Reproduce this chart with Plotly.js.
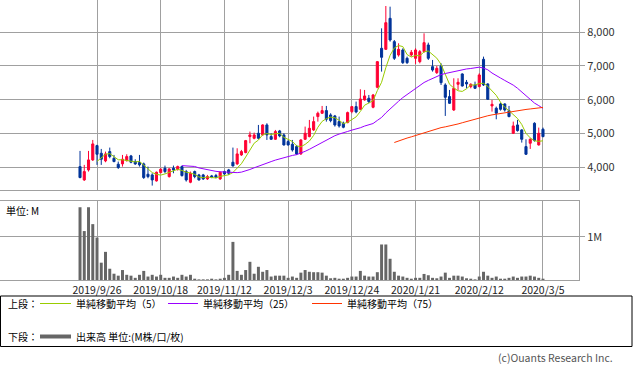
<!DOCTYPE html>
<html>
<head>
<meta charset="utf-8">
<script src="https://cdn.plot.ly/plotly-3.0.1.min.js"></script>
<style>html,body{margin:0;padding:0;background:#fff;}#chart{width:633px;height:371px;}</style>
</head>
<body>
<div id="chart"></div>
<script>
// ---- data ----
var dates = [
 "2019/9/19","2019/9/20","2019/9/24","2019/9/25","2019/9/26","2019/9/27","2019/9/30",
 "2019/10/1","2019/10/2","2019/10/3","2019/10/4","2019/10/7","2019/10/8","2019/10/9","2019/10/10","2019/10/11","2019/10/15","2019/10/16","2019/10/17","2019/10/18","2019/10/21","2019/10/23","2019/10/24","2019/10/25","2019/10/28","2019/10/29","2019/10/30","2019/10/31",
 "2019/11/1","2019/11/5","2019/11/6","2019/11/7","2019/11/8","2019/11/11","2019/11/12","2019/11/13","2019/11/14","2019/11/15","2019/11/18","2019/11/19","2019/11/20","2019/11/21","2019/11/22","2019/11/25","2019/11/26","2019/11/27","2019/11/28","2019/11/29",
 "2019/12/2","2019/12/3","2019/12/4","2019/12/5","2019/12/6","2019/12/9","2019/12/10","2019/12/11","2019/12/12","2019/12/13","2019/12/16","2019/12/17","2019/12/18","2019/12/19","2019/12/20","2019/12/23","2019/12/24","2019/12/25","2019/12/26","2019/12/27","2019/12/30",
 "2020/1/6","2020/1/7","2020/1/8","2020/1/9","2020/1/10","2020/1/14","2020/1/15","2020/1/16","2020/1/17","2020/1/20","2020/1/21","2020/1/22","2020/1/23","2020/1/24","2020/1/27","2020/1/28","2020/1/29","2020/1/30","2020/1/31",
 "2020/2/3","2020/2/4","2020/2/5","2020/2/6","2020/2/7","2020/2/10","2020/2/12","2020/2/13","2020/2/14","2020/2/17","2020/2/18","2020/2/19","2020/2/20","2020/2/21","2020/2/25","2020/2/26","2020/2/27","2020/2/28",
 "2020/3/2","2020/3/3","2020/3/4","2020/3/5"
];
var openP = [
 4013,3617,3914,4211,4636,4409,4181,4458,4260,4083,
 4093,4191,4330,4162,4132,4093,3786,3766,3588,3835,
 3964,3716,3964,3934,4013,3865,3548,3865,3766,3766,
 3647,3736,3746,3647,3865,3914,4142,4093,4359,4429,
 4903,4854,5002,4953,5249,4903,4824,5071,4953,4755,
 4676,4607,4389,4824,4903,5101,5497,5596,5675,5546,
 5516,5348,5299,5319,5645,5793,5714,5991,6041,5774,
 6367,7524,7494,8414,7722,7326,7474,7227,7326,7227,
 7128,7425,7623,6980,6802,7000,6436,6090,5694,6456,
 6762,6515,6387,6436,6387,7198,6466,5813,5744,5872,
 5872,5675,5002,5249,5101,4606,4706,5299,4656,5121
];
var highP = [
 4478,4063,4478,4804,4660,4537,4458,4577,4359,4162,
 4359,4379,4359,4231,4359,4132,4013,3815,3865,3964,
 4043,3964,4043,4043,4043,3914,3865,3894,3796,3796,
 3766,3766,3796,3865,3894,3944,4577,4557,4508,4804,
 5052,5022,5249,5269,5299,5002,5101,5101,5002,4804,
 4804,4656,4824,5200,5398,5497,5645,5813,5813,5596,
 5546,5497,5348,5645,5813,5942,6308,6288,6139,6169,
 7148,8117,8780,8760,7771,7672,7524,7277,7474,7524,
 7474,7969,7692,7178,7000,7079,6486,6288,6634,6634,
 6782,6584,6486,6535,6782,7277,6486,5991,5793,5912,
 5892,5813,5348,5398,5121,4824,4854,5328,5170,5170
];
var lowP = [
 3667,3588,3865,4181,4063,4063,4142,4260,4142,3944,
 4013,4162,4112,4063,4013,3647,3667,3449,3568,3815,
 3815,3687,3815,3894,3716,3568,3519,3667,3598,3617,
 3617,3667,3667,3617,3766,3766,4013,4063,4330,4409,
 4706,4824,4824,4933,4804,4804,4804,4883,4636,4636,
 4458,4359,4359,4804,4883,5071,5348,5576,5348,5328,
 5200,5170,5150,5299,5596,5596,5694,5971,5892,5744,
 6337,6832,7474,7722,7178,7277,7059,7059,7277,7059,
 7079,7395,7178,6832,6762,6436,5516,5872,5665,6288,
 6387,6337,6337,6317,6367,6406,5991,5645,5417,5675,
 5645,5477,4982,5052,4725,4359,4537,4755,4636,4883
];
var closeP = [
 3687,3865,4211,4686,4379,4231,4389,4310,4162,3984,
 4231,4310,4142,4093,4063,3687,3716,3617,3845,3934,
 3865,3944,3914,4013,3746,3617,3815,3716,3617,3647,
 3716,3697,3697,3845,3796,3815,4033,4389,4458,4784,
 4953,4953,4854,5249,4953,4824,5052,4923,4656,4656,
 4508,4389,4804,5002,5150,5348,5596,5675,5417,5378,
 5249,5220,5180,5615,5793,5635,6021,6110,5942,6139,
 7128,7257,8285,7771,7227,7494,7099,7099,7405,7474,
 7425,7692,7227,6881,6931,6505,6070,5892,6337,6515,
 6406,6466,6456,6337,6733,6436,6011,5862,5596,5714,
 5694,5497,5220,5081,4824,4379,4824,4784,5002,4903
];
var volumeM = [
 1.68,1.13,1.68,1.29,0.98,0.40,0.65,0.26,0.145,0.10,
 0.23,0.12,0.10,0.05,0.12,0.21,0.08,0.12,0.08,0.12,
 0.05,0.05,0.08,0.05,0.12,0.08,0.12,0.03,0.015,0.015,
 0.015,0.03,0.015,0.03,0.05,0.12,0.88,0.21,0.12,0.23,
 0.42,0.145,0.305,0.19,0.23,0.08,0.10,0.10,0.10,0.05,
 0.08,0.05,0.17,0.23,0.19,0.18,0.18,0.17,0.10,0.04,
 0.05,0.03,0.03,0.05,0.08,0.08,0.21,0.10,0.08,0.08,
 0.18,0.82,0.82,0.49,0.19,0.10,0.08,0.05,0.03,0.05,
 0.05,0.14,0.11,0.05,0.04,0.08,0.17,0.05,0.10,0.10,
 0.08,0.04,0.03,0.015,0.08,0.19,0.10,0.05,0.08,0.03,
 0.03,0.05,0.08,0.05,0.08,0.08,0.10,0.08,0.05,0.03
];
var tickDates = ["2019/9/26","2019/10/18","2019/11/12","2019/12/3","2019/12/24","2020/1/21","2020/2/12","2020/3/5"];
var priceTicks = [4000,5000,6000,7000,8000];
var maPeriods = [5,25,75];
var maLabels = ["単純移動平均（5）","単純移動平均（25）","単純移動平均（75）"];

// ---- simple moving averages of the closes (the indicators named in the legend) ----
function sma(vals, n){
  var out = [];
  for (var i=0;i<vals.length;i++){
    if (i < n-1){ out.push(null); continue; }
    var s = 0; for (var k=i-n+1;k<=i;k++) s += vals[k];
    out.push(s/n);
  }
  return out;
}

var W = 633, H = 371;
function px(x){ return x/W; }
function py(y){ return 1 - y/H; }

var FONT = "Noto Sans CJK JP, Noto Sans, DejaVu Sans, sans-serif";
var GRID = "#a0a0a0";
var maColors = ["#99cc00","#9900ff","#ff3300"];

var traces = [];
traces.push({
  type:"candlestick", x:dates, open:openP, high:highP, low:lowP, close:closeP,
  xaxis:"x", yaxis:"y",
  increasing:{line:{color:"#ff0033",width:1},fillcolor:"#ff0033"},
  decreasing:{line:{color:"#003399",width:1},fillcolor:"#003399"},
  whiskerwidth:0, hoverinfo:"skip", showlegend:false
});
for (var m=0;m<maPeriods.length;m++){
  traces.push({
    type:"scatter", mode:"lines", x:dates, y:sma(closeP, maPeriods[m]),
    xaxis:"x", yaxis:"y", line:{color:maColors[m], width:1},
    hoverinfo:"skip", showlegend:false, name:maLabels[m]
  });
}
traces.push({
  type:"bar", x:dates, y:volumeM, xaxis:"x2", yaxis:"y2",
  marker:{color:"#666666", line:{width:0}}, width:0.7,
  hoverinfo:"skip", showlegend:false
});

var xRange = [-18.84, 117.48];
var shapes = [
  {type:"rect", xref:"paper", yref:"paper", x0:px(0.5), x1:px(632), y0:py(296), y1:py(346.5), line:{color:"#000",width:1}},
  {type:"line", xref:"paper", yref:"paper", x0:px(40), x1:px(71), y0:py(303.5), y1:py(303.5), line:{color:maColors[0],width:1}},
  {type:"line", xref:"paper", yref:"paper", x0:px(168), x1:px(198), y0:py(303.5), y1:py(303.5), line:{color:maColors[1],width:1}},
  {type:"line", xref:"paper", yref:"paper", x0:px(312), x1:px(342), y0:py(303.5), y1:py(303.5), line:{color:maColors[2],width:1}},
  {type:"line", xref:"paper", yref:"paper", x0:px(40), x1:px(71), y0:py(336.5), y1:py(336.5), line:{color:"#666666",width:4}}
];
function ann(text, x, y, opts){
  var a = {text:text, xref:"paper", yref:"paper", x:px(x), y:py(y), showarrow:false,
    xanchor:"left", yanchor:"middle", font:{family:FONT, size:10, color:"#000"}};
  if (opts) for (var k in opts) a[k]=opts[k];
  return a;
}
var annotations = [
  ann("単位: M", 4, 210),
  ann("上段：", 6, 303.5),
  ann(maLabels[0], 74, 303.5),
  ann(maLabels[1], 201, 303.5),
  ann(maLabels[2], 345, 303.5),
  ann("下段：", 6, 336.5),
  ann("出来高 単位:(M株/口/枚)", 74, 336.5),
  ann("(c)Ouants Research Inc.", 615, 357.5, {xanchor:"right", font:{family:FONT,size:10.5,color:"#555"}})
];

var layout = {
  width:W, height:H, margin:{l:0,r:0,t:0,b:0},
  paper_bgcolor:"#fff", plot_bgcolor:"#fff",
  showlegend:false, hovermode:false,
  font:{family:FONT, size:11, color:"#222"},
  xaxis:{domain:[0,579/W], type:"category", range:xRange, autorange:false,
    tickvals:tickDates, showticklabels:false, ticks:"",
    showgrid:true, gridcolor:GRID, gridwidth:1,
    showline:true, mirror:true, linecolor:GRID, linewidth:1,
    rangeslider:{visible:false}, zeroline:false, fixedrange:true},
  yaxis:{domain:[py(190),1], range:[3318,8958], autorange:false, side:"right",
    tickvals:priceTicks, tickformat:",d", ticks:"outside", ticklen:5, tickcolor:GRID,
    showgrid:true, gridcolor:GRID, gridwidth:1,
    showline:true, mirror:true, linecolor:GRID, linewidth:1,
    zeroline:false, tickfont:{family:FONT,size:11,color:"#333"}, fixedrange:true},
  xaxis2:{domain:[0,579/W], type:"category", range:xRange, autorange:false, anchor:"y2",
    tickvals:tickDates, ticktext:tickDates, ticks:"", showticklabels:true,
    tickfont:{family:FONT,size:10.5,color:"#222"}, tickangle:0,
    showgrid:true, gridcolor:GRID, gridwidth:1,
    showline:true, mirror:true, linecolor:GRID, linewidth:1,
    zeroline:false, fixedrange:true},
  yaxis2:{domain:[py(280),py(201)], range:[0,1.824], autorange:false, side:"right", anchor:"x2",
    tickvals:[1], ticktext:["1M"], ticks:"outside", ticklen:5, tickcolor:GRID,
    showgrid:true, gridcolor:GRID, gridwidth:1,
    showline:true, mirror:true, linecolor:GRID, linewidth:1,
    zeroline:false, tickfont:{family:FONT,size:11,color:"#333"}, fixedrange:true},
  bargap:0.3,
  shapes:shapes, annotations:annotations
};
Plotly.newPlot("chart", traces, layout, {displayModeBar:false, staticPlot:true});
</script>
</body>
</html>
